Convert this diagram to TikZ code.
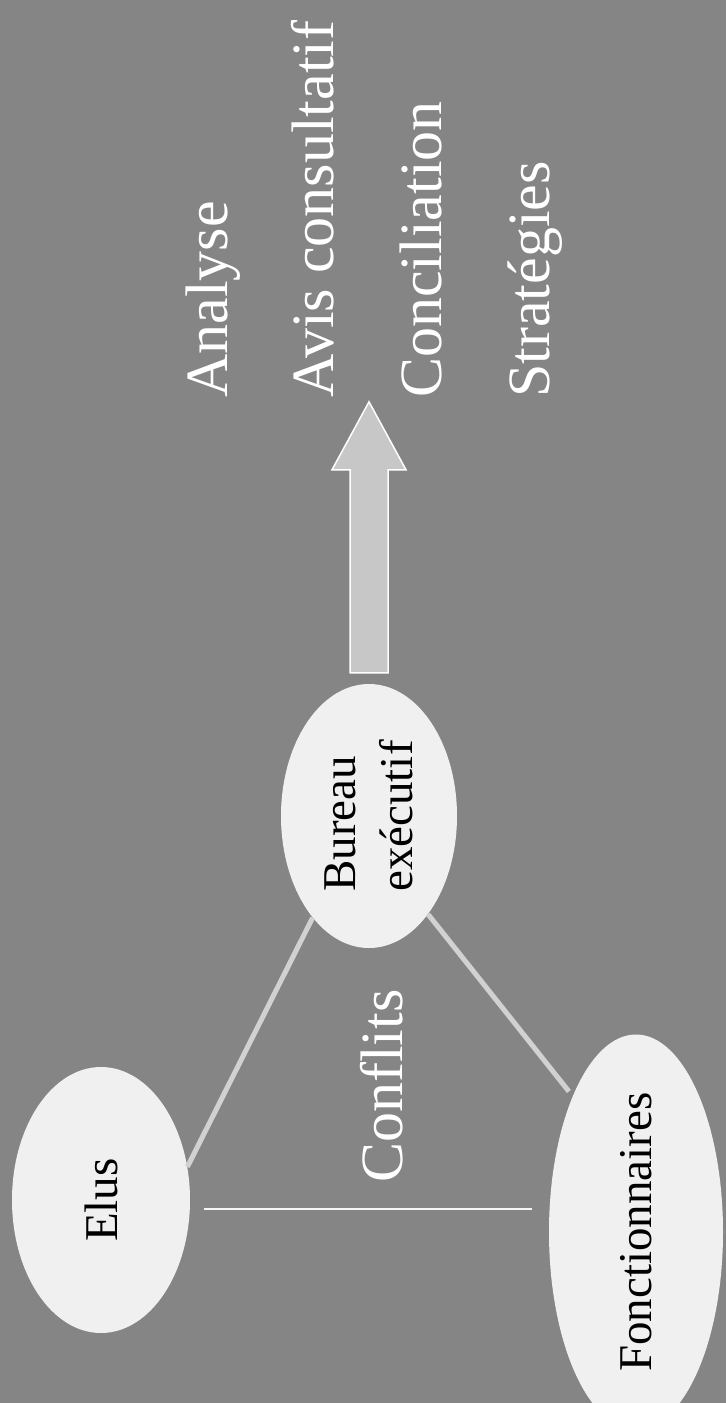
\documentclass[tikz,border=0pt]{standalone}
\usepackage{fontspec}
\setmainfont{Liberation Serif}
\usetikzlibrary{shapes.geometric,calc}

\definecolor{slidegray}{gray}{0.52}
\definecolor{ovalfill}{gray}{0.94}
\definecolor{linkgray}{gray}{0.82}
\definecolor{arrowgray}{gray}{0.78}

\begin{document}
\begin{tikzpicture}[
  x=1pt, y=-1pt,
  oval/.style={ellipse, fill=ovalfill, inner sep=0pt, rotate=90, align=left, font=\fontsize{47}{57}\selectfont},
  item/.style={rotate=90, anchor=base west, inner sep=0pt, text=white, font=\fontsize{60}{72}\selectfont},
  link/.style={draw=linkgray, line width=5pt},
  thinlink/.style={draw=white!92!gray, line width=2pt}
]

% Background
\fill[slidegray] (0,0) rectangle (726,1403);
\useasboundingbox (0,0) rectangle (726,1403);

% Ovals
\node[oval, minimum width=264, minimum height=176] (bureau) at (369,816) {Bureau\\exécutif};
\node[oval, minimum width=266, minimum height=178] (elus) at (101,1200) {Elus};
\node[oval, minimum width=326, minimum height=174] (fonct) at (636,1232) {Fonctionnaires};

% Triangle
\draw[link] (elus.-69) -- (bureau.151);
\draw[link, shorten >=6pt] (bureau.211) -- (fonct.25);
\draw[thinlink, shorten <=14pt, shorten >=17pt] (elus.-96) -- (elus.-96 -| fonct.north);
\node[item] (conflits) at (402,1183) {Conflits};

% Big arrow
\coordinate (arrowfoot) at ($(bureau.east)+(0,-11)$);
\filldraw[fill=arrowgray, draw=white, line width=1.5pt] (arrowfoot) ++(-19,0) -- ++(0,-203) -- ++(-18,0)
  -- ++(37,-68) -- ++(37,68) -- ++(-18,0) -- ++(0,203) -- cycle;

% Outcomes
\node[item] (analyse) at (227,398) {Analyse};
\node[item] (avis) at (333,398) {Avis consultatif};
\node[item] (concil) at (441,398) {Conciliation};
\node[item] (strat) at (549,398) {Stratégies};

\end{tikzpicture}
\end{document}
